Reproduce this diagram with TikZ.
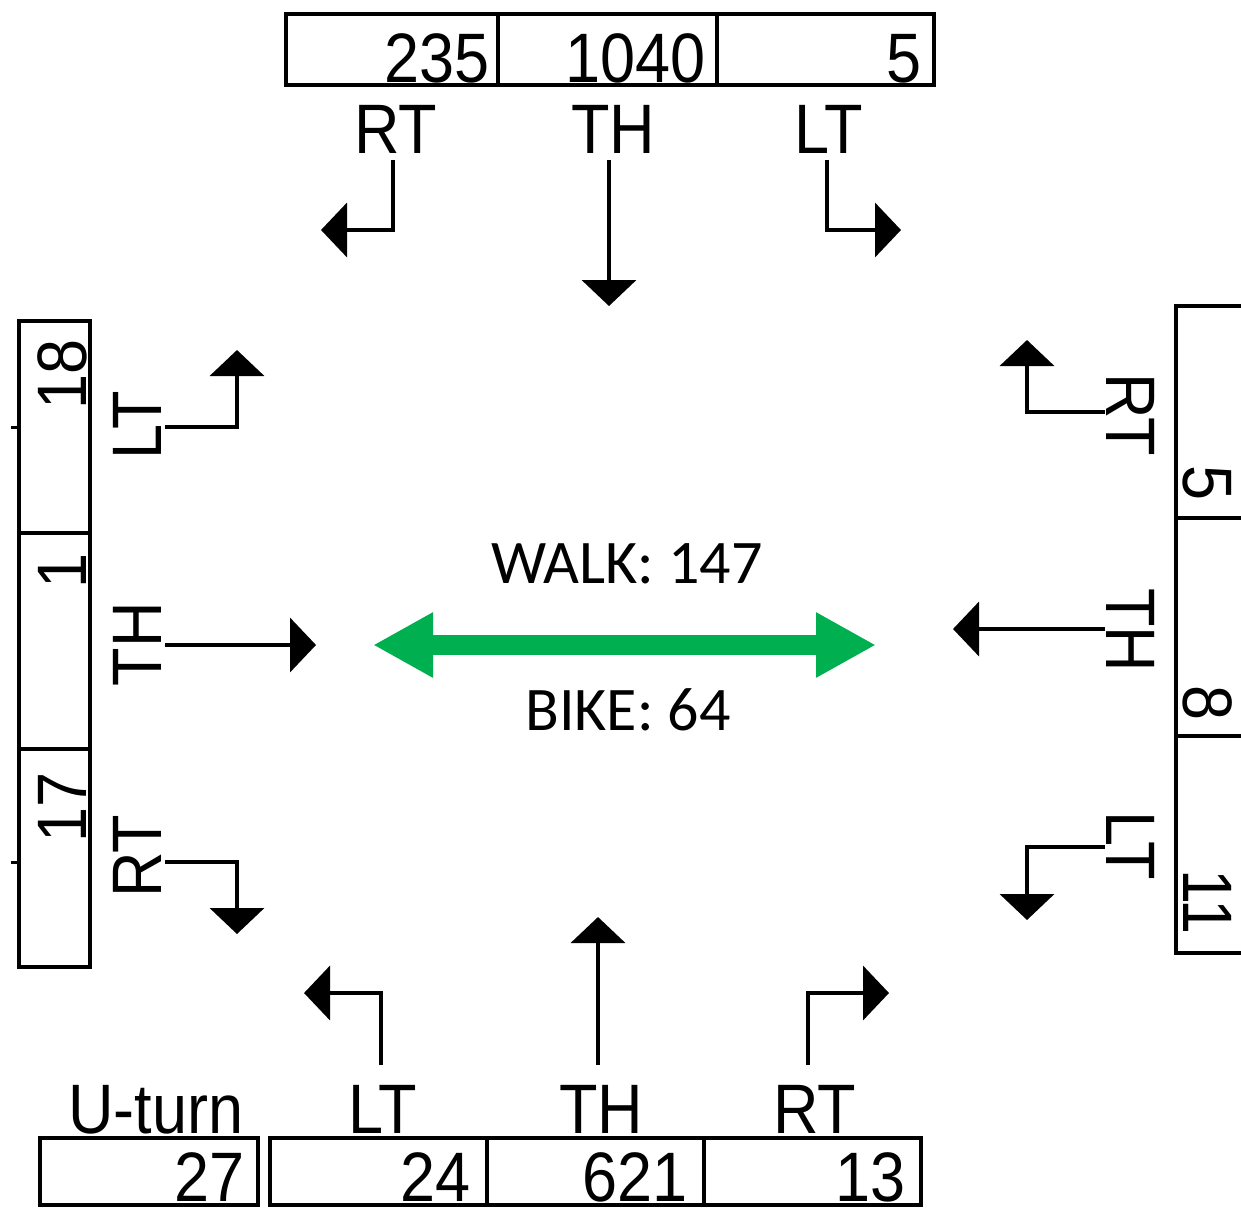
\documentclass[tikz,border=0pt]{standalone}
\usepackage{fontspec}
\newfontfamily\narrowfont[FakeStretch=0.9]{Liberation Sans}
\newfontfamily\calfont{Carlito}
\usetikzlibrary{arrows.meta}
\definecolor{pedgreen}{RGB}{0,176,80}
\tikzset{
  cellline/.style={draw=black, line width=4pt},
  lab/.style={inner sep=0pt, font=\narrowfont\fontsize{70}{70}\selectfont},
  num/.style={lab, anchor=base east},
  flow/.style={draw=black, line width=4pt, -{Triangle[length=26pt,width=54pt]}},
  pedarrow/.style={draw=pedgreen, line width=20pt,
    {Triangle[length=60pt,width=61pt]}-{Triangle[length=60pt,width=61pt]}},
  ctext/.style={inner sep=0pt, anchor=base, font=\calfont\fontsize{62}{62}\selectfont}
}
\begin{document}
\begin{tikzpicture}[x=1pt,y=-1pt]
\useasboundingbox (0,0) rectangle (1241,1208);

% ---------- top (southbound) ----------
\draw[cellline] (286,14) rectangle (934,85);
\draw[cellline] (498,14) -- (498,85);
\draw[cellline] (717,14) -- (717,85);
\node[num] (tn1) at (490,82) {235};
\node[num] (tn2) at (706,82) {1040};
\node[num] (tn3) at (922,82) {5};
\node[lab, anchor=base] (tRT) at (396,153) {RT};
\node[lab, anchor=base] (tTH) at (613,153) {TH};
\node[lab, anchor=base] (tLT) at (829,153) {LT};
\coordinate (tRTs) at (393,160); \coordinate (tRTe) at (321,230);
\coordinate (tTHs) at (609,160); \coordinate (tTHe) at (609,306);
\coordinate (tLTs) at (827,160); \coordinate (tLTe) at (901,230);
\draw[flow] (tRTs) |- (tRTe);
\draw[flow] (tTHs) -- (tTHe);
\draw[flow] (tLTs) |- (tLTe);

% ---------- left (eastbound) ----------
\draw[cellline] (19,321) rectangle (90,967);
\draw[cellline] (19,533) -- (90,533);
\draw[cellline] (19,749) -- (90,749);
\draw[line width=3pt] (11,427) -- (19,427);
\draw[line width=3pt] (11,862) -- (19,862);
\node[num, rotate=90] (ln1) at (86,339) {18};
\node[num, rotate=90] (ln2) at (86,553) {1};
\node[num, rotate=90] (ln3) at (86,772) {17};
\node[lab, anchor=base, rotate=90] (lLT) at (161,425) {LT};
\node[lab, anchor=base, rotate=90] (lTH) at (161,644) {TH};
\node[lab, anchor=base, rotate=90] (lRT) at (161,856) {RT};
\coordinate (lLTs) at (165,427); \coordinate (lLTe) at (237,350);
\coordinate (lTHs) at (165,645); \coordinate (lTHe) at (316,645);
\coordinate (lRTs) at (165,862); \coordinate (lRTe) at (237,934);
\draw[flow] (lLTs) -| (lLTe);
\draw[flow] (lTHs) -- (lTHe);
\draw[flow] (lRTs) -| (lRTe);

% ---------- right (westbound) ----------
\draw[cellline] (1245,306) -- (1176,306) -- (1176,953) -- (1245,953);
\draw[cellline] (1176,518) -- (1245,518);
\draw[cellline] (1176,736) -- (1245,736);
\node[num, rotate=-90] (rn1) at (1183,501) {5};
\node[num, rotate=-90] (rn2) at (1183,721) {8};
\node[num, rotate=-90] (rn3) at (1183,935) {11};
\node[lab, anchor=base, rotate=-90] (rRT) at (1106,415) {RT};
\node[lab, anchor=base, rotate=-90] (rTH) at (1106,630) {TH};
\node[lab, anchor=base, rotate=-90] (rLT) at (1106,846) {LT};
\coordinate (rRTs) at (1105,412); \coordinate (rRTe) at (1027,340);
\coordinate (rTHs) at (1105,629); \coordinate (rTHe) at (953,629);
\coordinate (rLTs) at (1105,847); \coordinate (rLTe) at (1027,920);
\draw[flow] (rRTs) -| (rRTe);
\draw[flow] (rTHs) -- (rTHe);
\draw[flow] (rLTs) -| (rLTe);

% ---------- bottom (northbound) ----------
\draw[cellline] (40,1138) rectangle (258,1205);
\draw[cellline] (270,1138) rectangle (921,1205);
\draw[cellline] (487,1138) -- (487,1205);
\draw[cellline] (704,1138) -- (704,1205);
\node[num] (bn0) at (245,1201) {27};
\node[num] (bn1) at (471,1201) {24};
\node[num] (bn2) at (688,1201) {621};
\node[num] (bn3) at (906,1201) {13};
\node[lab, anchor=base] (bUT) at (156,1133) {U-turn};
\node[lab, anchor=base] (bLT) at (383,1133) {LT};
\node[lab, anchor=base] (bTH) at (601,1133) {TH};
\node[lab, anchor=base] (bRT) at (815,1133) {RT};
\coordinate (bLTs) at (381,1065); \coordinate (bLTe) at (304,993);
\coordinate (bTHs) at (598,1065); \coordinate (bTHe) at (598,917);
\coordinate (bRTs) at (808,1065); \coordinate (bRTe) at (889,993);
\draw[flow] (bLTs) |- (bLTe);
\draw[flow] (bTHs) -- (bTHe);
\draw[flow] (bRTs) |- (bRTe);

% ---------- centre ----------
\node[ctext] (walk) at (627,583) {WALK: 147};
\node[ctext] (bike) at (628,730) {BIKE: 64};
\coordinate (pedL) at (373,645); \coordinate (pedR) at (876,645);
\draw[pedarrow] (pedL) -- (pedR);
\end{tikzpicture}
\end{document}
